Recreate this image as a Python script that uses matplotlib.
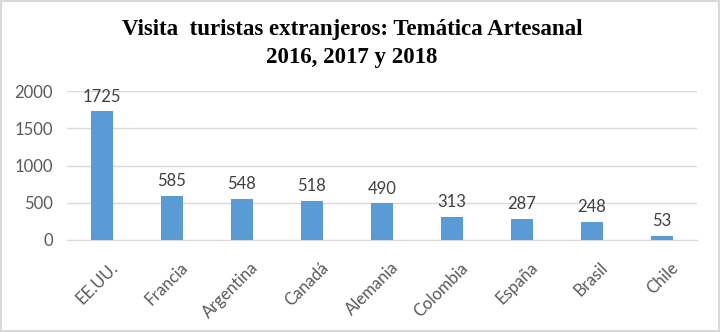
import matplotlib
matplotlib.use("Agg")
import matplotlib.pyplot as plt
from matplotlib.patches import Rectangle
from matplotlib.transforms import ScaledTranslation

categories = ["EE.UU.", "Francia", "Argentina", "Canadá", "Alemania", "Colombia", "España", "Brasil", "Chile"]
values = [1725, 585, 548, 518, 490, 313, 287, 248, 53]
yticks = [0, 500, 1000, 1500, 2000]
title_lines = ["Visita  turistas extranjeros: Temática Artesanal", "2016, 2017 y 2018"]

plt.rcParams['font.family'] = ['Lato', 'DejaVu Sans']

fig = plt.figure(figsize=(7.2, 3.32), dpi=100)
ax = fig.add_axes([67/720, 1-240/332, 630/720, 149/332])

x = list(range(len(categories)))
ax.bar(x, values, width=0.31, color="#5B9BD5", zorder=3)
ax.set_xlim(-0.5, len(categories) - 0.5)
ax.set_ylim(0, 2000)
ax.set_yticks(yticks)
ax.set_yticklabels([str(t) for t in yticks], fontsize=12, color="#595959")
ax.set_xticks(x)
ax.set_xticklabels(categories, rotation=45, ha="right", rotation_mode="anchor",
                   fontsize=12, color="#595959")
ax.tick_params(axis="both", length=0)
ax.tick_params(axis="y", pad=10)
ax.tick_params(axis="x", pad=14)
shift = ScaledTranslation(8/100, 0, fig.dpi_scale_trans)
for lbl in ax.get_xticklabels():
    lbl.set_transform(lbl.get_transform() + shift)
ax.grid(axis="y", color="#D9D9D9", linewidth=1, zorder=0)
for s in ["top", "right", "left"]:
    ax.spines[s].set_visible(False)
ax.spines["bottom"].set_color("#D9D9D9")

for xi, v in zip(x, values):
    ax.annotate(str(v), (xi, v), xytext=(0, 5), textcoords="offset points",
                ha="center", va="bottom", fontsize=12, color="#404040")

for yc, line in zip([30, 57], title_lines):
    fig.text(352/720, 1-yc/332, line, ha="center", va="center",
             family="Liberation Serif", fontweight="bold", fontsize=16.5,
             color="black")

fig.patches.append(Rectangle((0.002, 0.003), 0.996, 0.994, transform=fig.transFigure,
                             fill=False, edgecolor="#D9D9D9", linewidth=1.5))

fig.savefig("out.png", dpi=100)
